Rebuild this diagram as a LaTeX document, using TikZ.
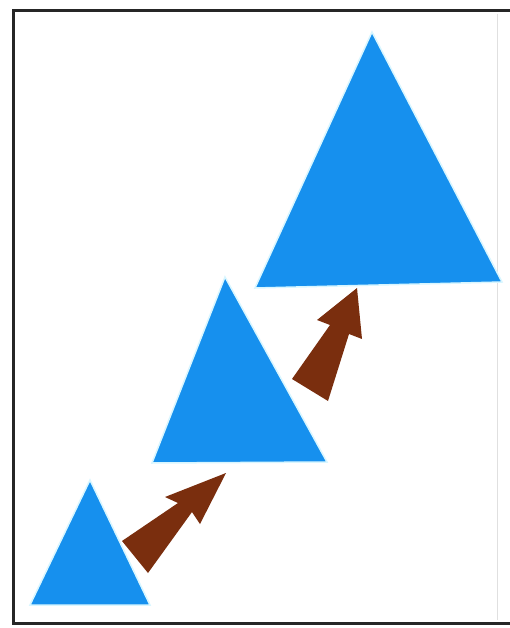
\documentclass[tikz,border=0pt]{standalone}
\definecolor{triblue}{HTML}{1690EE}
\definecolor{arrbrown}{HTML}{7A2E0E}
\definecolor{halo}{HTML}{D8F6FF}
\begin{document}
\begin{tikzpicture}[x=1pt,y=-1pt,
  tri/.style={fill=triblue,draw=halo,line width=1.5pt,line join=miter},
  arr/.style={fill=arrbrown,draw=none}]
\useasboundingbox (0,0) rectangle (510,628);
\fill[white] (0,0) rectangle (510,628);
% frame
\draw[line width=3pt,black!85] (510,11) -- (13,11) -- (13,623) -- (510,623);
\draw[line width=0.6pt,black!12] (497,14) -- (497,620);
% triangles
\filldraw[tri] (90,480) -- (150,605) -- (30,605) -- cycle;
\filldraw[tri] (225,277) -- (327,462) -- (152,463) -- cycle;
\filldraw[tri] (372,32) -- (502,282) -- (255,288) -- cycle;
% arrows
\fill[arr] (122,541) -- (178,503) -- (165,497) -- (226,473) -- (200,524) -- (192,512) -- (148,573) -- cycle;
\fill[arr] (292,379) -- (330,325) -- (317,320) -- (357,288) -- (362,339) -- (349,334) -- (328,401) -- cycle;
\end{tikzpicture}
\end{document}
